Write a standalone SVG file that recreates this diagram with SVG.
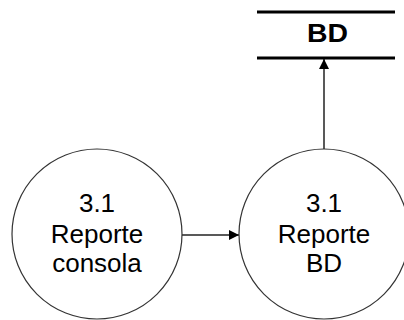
<svg xmlns="http://www.w3.org/2000/svg" width="404" height="320" viewBox="0 0 404 320">
  <style>
    .proc { fill: #ffffff; stroke: #333333; stroke-width: 1.2; }
    .lbl { font-family: "Liberation Sans", Arial, sans-serif; font-size: 26px; fill: #000000; text-anchor: middle; }
    .store-line { stroke: #000000; stroke-width: 3; }
    .store-lbl { font-family: "Liberation Sans", Arial, sans-serif; font-size: 25px; font-weight: bold; fill: #000000; text-anchor: middle; }
    .flow { stroke: #222222; stroke-width: 1.5; fill: none; marker-end: url(#arrow); }
  </style>
  <defs>
    <marker id="arrow" viewBox="0 0 10 10" refX="10" refY="5" markerWidth="10" markerHeight="10" markerUnits="userSpaceOnUse" orient="auto">
      <path d="M0,0 L10,5 L0,10 Z" fill="#000000"/>
    </marker>
  </defs>
  <rect width="404" height="320" fill="#ffffff"/>

  <g id="connectors">
    <line class="flow" x1="182" y1="235" x2="239" y2="235"/>
    <line class="flow" x1="324" y1="149" x2="324" y2="59"/>
  </g>

  <g id="store-bd">
    <line class="store-line" x1="257" y1="12" x2="395" y2="12"/>
    <line class="store-line" x1="257" y1="58" x2="395" y2="58"/>
    <text class="store-lbl" x="327.5" y="42" textLength="41" lengthAdjust="spacingAndGlyphs">BD</text>
  </g>

  <g id="proc-consola">
    <circle class="proc" cx="97" cy="234" r="85"/>
    <text class="lbl" x="97" y="212">3.1</text>
    <text class="lbl" x="97" y="243">Reporte</text>
    <text class="lbl" x="97" y="272">consola</text>
  </g>

  <g id="proc-bd">
    <circle class="proc" cx="324" cy="234" r="85"/>
    <text class="lbl" x="324" y="212">3.1</text>
    <text class="lbl" x="324" y="243">Reporte</text>
    <text class="lbl" x="324" y="272">BD</text>
  </g>
</svg>
